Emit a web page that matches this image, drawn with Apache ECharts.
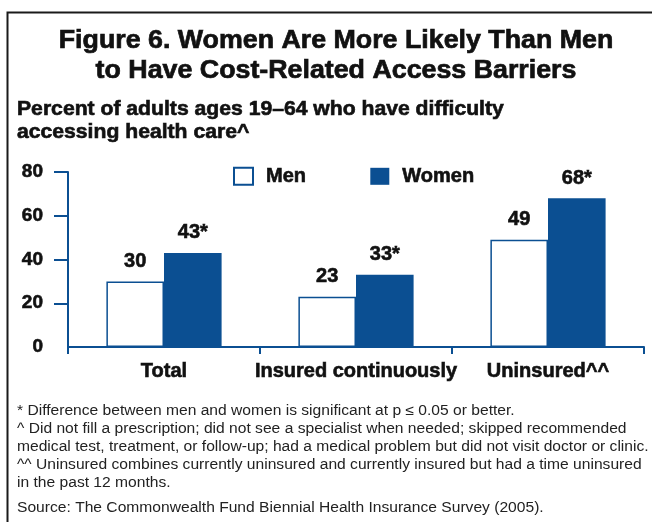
<!DOCTYPE html>
<html>
<head>
<meta charset="utf-8">
<script src="https://cdn.jsdelivr.net/npm/echarts@6/dist/echarts.min.js"></script>
<style>
  html, body { margin: 0; padding: 0; background: #fff; }
  #chart { width: 652px; height: 522px; }
</style>
</head>
<body>
<div id="chart"></div>
<script>
// Cost-related access barriers by sex, adults 19–64
const categories = ['Total', 'Insured continuously', 'Uninsured^^'];
const seriesNames = ['Men', 'Women'];
const menValues = [30, 23, 49];
const womenValues = [43, 33, 68];
// true where the men/women difference is significant (marked with *)
const womenSignificant = [true, true, true];
const yTicks = [0, 20, 40, 60, 80];

const titleLines = [
  'Figure 6. Women Are More Likely Than Men',
  'to Have Cost-Related Access Barriers'
];
const subtitleLines = [
  'Percent of adults ages 19\u201364 who have difficulty',
  'accessing health care^'
];
const noteLines = [
  '* Difference between men and women is significant at p \u2264 0.05 or better.',
  '^ Did not fill a prescription; did not see a specialist when needed; skipped recommended',
  'medical test, treatment, or follow-up; had a medical problem but did not visit doctor or clinic.',
  '^^ Uninsured combines currently uninsured and currently insured but had a time uninsured',
  'in the past 12 months.'
];
const sourceLine = 'Source: The Commonwealth Fund Biennial Health Insurance Survey (2005).';

const BLUE = '#0b4f92';
const INK = '#111';
const FONT = '"Liberation Sans", Arial, Helvetica, sans-serif';

const chart = echarts.init(document.getElementById('chart'), null, { renderer: 'canvas' });

const graphics = [
  // outer frame
  {
    type: 'rect', left: 5, top: 10, z: 0, silent: true,
    shape: { width: 700, height: 560 },
    style: { fill: 'none', stroke: '#1a1a1a', lineWidth: 2 }
  }
];

// heavy headline text: bold face plus a thin outline of the same ink
titleLines.forEach((t, i) => {
  graphics.push({
    type: 'text', x: 336, y: 41 + i * 29.5, scaleX: 1.03,
    style: {
      text: t, fill: INK, stroke: INK, lineWidth: 0.7,
      font: 'bold 26px ' + FONT,
      textAlign: 'center', textVerticalAlign: 'middle'
    }
  });
});
subtitleLines.forEach((t, i) => {
  graphics.push({
    type: 'text', x: 17, y: 110 + i * 23, scaleX: 1.085,
    style: {
      text: t, fill: INK, stroke: INK, lineWidth: 0.6,
      font: 'bold 19.5px ' + FONT,
      textAlign: 'left', textVerticalAlign: 'middle'
    }
  });
});
noteLines.forEach((t, i) => {
  graphics.push({
    type: 'text', x: 17, y: 411 + i * 18, scaleX: 1.115,
    style: {
      text: t, fill: '#222', font: '14px ' + FONT,
      textAlign: 'left', textVerticalAlign: 'middle'
    }
  });
});
graphics.push({
  type: 'text', x: 17, y: 508, scaleX: 1.115,
  style: {
    text: sourceLine, fill: '#222', font: '14px ' + FONT,
    textAlign: 'left', textVerticalAlign: 'middle'
  }
});

const heavy = { textBorderColor: INK, textBorderWidth: 0.6 };

const labelStyle = Object.assign({
  show: true, position: 'top', distance: 10,
  color: INK, fontFamily: FONT, fontWeight: 'bold', fontSize: 20
}, heavy);

const option = {
  backgroundColor: '#fff',
  animation: false,
  graphic: graphics,
  legend: {
    data: seriesNames,
    left: 233, top: 166, padding: 0,
    itemWidth: 19, itemHeight: 17, itemGap: 64,
    icon: 'rect',
    textStyle: Object.assign({
      color: INK, fontFamily: FONT, fontWeight: 'bold', fontSize: 20,
      padding: [0, 0, 0, 8]
    }, heavy)
  },
  grid: { left: 68, right: 8, top: 172, bottom: 175, containLabel: false },
  xAxis: {
    type: 'category',
    data: categories,
    axisLine: { lineStyle: { color: BLUE, width: 2 } },
    axisTick: { show: true, length: 7, lineStyle: { color: BLUE, width: 2 } },
    axisLabel: Object.assign({
      color: INK, fontFamily: FONT, fontWeight: 'bold', fontSize: 20,
      margin: 14, interval: 0
    }, heavy)
  },
  yAxis: {
    type: 'value',
    min: yTicks[0], max: yTicks[yTicks.length - 1], interval: 20,
    splitLine: { show: false },
    axisLine: { show: true, lineStyle: { color: BLUE, width: 2 } },
    axisTick: {
      show: true, length: 14,
      customValues: yTicks.slice(1),
      lineStyle: { color: BLUE, width: 2 }
    },
    axisLabel: Object.assign({
      color: INK, fontFamily: FONT, fontWeight: 'bold', fontSize: 19,
      margin: 25, customValues: yTicks
    }, heavy)
  },
  series: [
    {
      name: seriesNames[0], type: 'bar',
      data: menValues,
      barWidth: '30%', barGap: '0%',
      itemStyle: { color: '#fff', borderColor: BLUE, borderWidth: 1.5 },
      label: Object.assign({}, labelStyle, {
        formatter: p => String(p.value)
      })
    },
    {
      name: seriesNames[1], type: 'bar',
      data: womenValues,
      barWidth: '30%', barGap: '0%',
      itemStyle: { color: BLUE, borderColor: BLUE, borderWidth: 0 },
      label: Object.assign({}, labelStyle, {
        formatter: p => p.value + (womenSignificant[p.dataIndex] ? '*' : '')
      })
    }
  ]
};

chart.setOption(option);
</script>
</body>
</html>
